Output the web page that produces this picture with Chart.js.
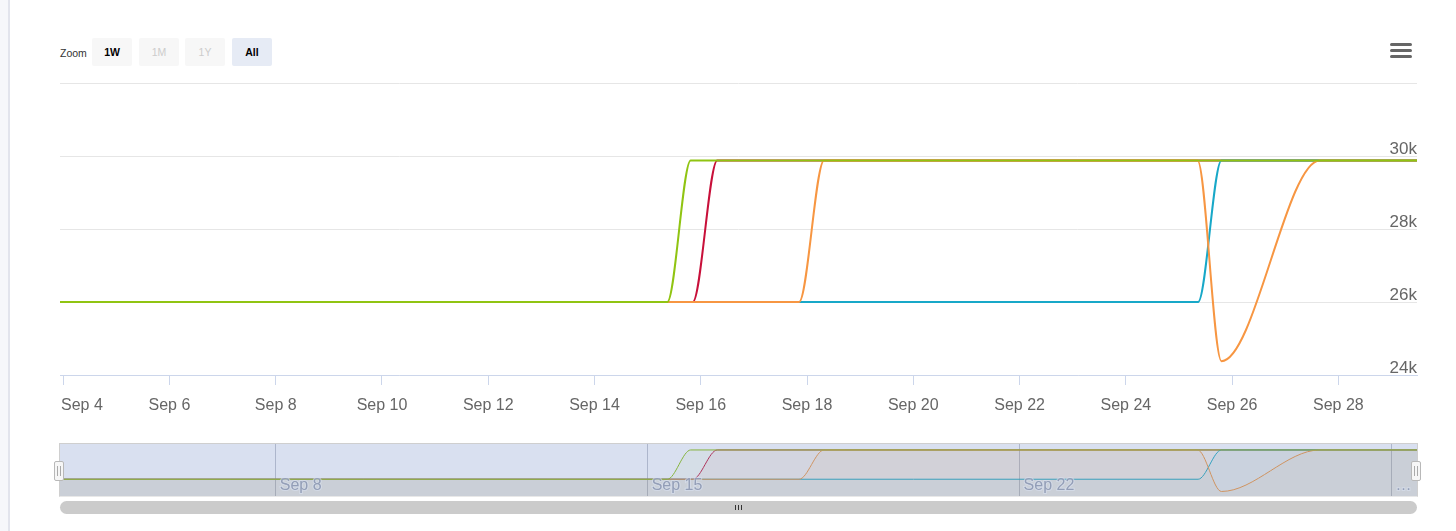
<!DOCTYPE html>
<html>
<head>
<meta charset="utf-8">
<script src="https://cdn.jsdelivr.net/npm/chart.js@4"></script>
<style>
  body { margin: 0; background: #fff; font-family: "Liberation Sans", Arial, sans-serif; }
  #page { position: relative; width: 1456px; height: 531px; overflow: hidden; }
  .edge { position: absolute; left: 0; top: 0; width: 8px; height: 531px; background: #f6f7fb; }
  .edgeLine { position: absolute; left: 8px; top: 0; width: 2px; height: 531px; background: #e2e4ed; }
  .zoomLabel { position: absolute; left: 60px; top: 47px; font-size: 10.5px; color: #333; }
  .btn { position: absolute; top: 38px; width: 40px; height: 28px; line-height: 29px; text-align: center;
         font-size: 10.5px; border-radius: 2px; background: #f7f7f7; color: #000; font-weight: bold; }
  .btn.off { color: #ccc; font-weight: normal; }
  .btn.on { background: #e6ebf5; }
  .burger { position: absolute; left: 1390px; width: 22px; height: 3px; border-radius: 2px; background: #666; }
  #main { position: absolute; left: 0; top: 0; }
  #nav { position: absolute; left: 0; top: 440px; }
  .navOutline { position: absolute; left: 59px; top: 443px; width: 1357px; height: 52px; border: 1px solid #cfcfcf; border-bottom-color: #e8e8e8; }
  .handle { position: absolute; top: 461px; width: 8px; height: 18px; background: #f6f6f6; border: 1px solid #b8b8b8; border-radius: 2px; }
  .handle::before, .handle::after { content: ""; position: absolute; top: 4px; width: 1px; height: 10px; background: #aaa; }
  .handle::before { left: 2px; } .handle::after { left: 5px; }
  .scroll { position: absolute; left: 60px; top: 501px; width: 1357px; height: 13px; border-radius: 7px; background: #cbcbcb; }
  .grip { position: absolute; top: 505px; width: 1px; height: 5px; background: #333; }
</style>
</head>
<body>
<div id="page">
  <div class="edge"></div><div class="edgeLine"></div>
  <div class="zoomLabel">Zoom</div>
  <div class="btn" style="left:92px">1W</div>
  <div class="btn off" style="left:139px">1M</div>
  <div class="btn off" style="left:185px">1Y</div>
  <div class="btn on" style="left:232px">All</div>
  <div class="burger" style="top:43px"></div>
  <div class="burger" style="top:49px"></div>
  <div class="burger" style="top:55px"></div>
  <canvas id="main" width="1456" height="430"></canvas>
  <canvas id="nav" width="1456" height="60"></canvas>
  <div class="navOutline"></div>
  <div class="handle" style="left:54px"></div>
  <div class="handle" style="left:1411px"></div>
  <div class="scroll"></div>
  <div class="grip" style="left:735px"></div>
  <div class="grip" style="left:738px"></div>
  <div class="grip" style="left:741px"></div>
</div>
<script>
// x values are days of September
const X_MIN = 3.94;
const X_MAX = 29.48;

const greenDays = [3.94, 15.37, 15.81, 29.48];
const greenValues = [26000, 26000, 29880, 29880];
const redDays = [3.94, 15.85, 16.31, 29.48];
const redValues = [26000, 26000, 29880, 29880];
const orangeDays = [3.94, 17.85, 18.32, 25.35, 25.80, 27.65, 29.48];
const orangeValues = [26000, 26000, 29880, 29880, 24380, 29880, 29880];
const cyanDays = [3.94, 25.36, 25.80, 29.48];
const cyanValues = [26000, 26000, 29880, 29880];

const xTickDays = [4, 6, 8, 10, 12, 14, 16, 18, 20, 22, 24, 26, 28];
const xTickLabels = ['Sep 4', 'Sep 6', 'Sep 8', 'Sep 10', 'Sep 12', 'Sep 14', 'Sep 16', 'Sep 18', 'Sep 20', 'Sep 22', 'Sep 24', 'Sep 26', 'Sep 28'];
const yTicks = [24000, 26000, 28000, 30000, 32000];
const yTickLabels = ['24k', '26k', '28k', '30k', ''];

const navTickDays = [8, 15, 22, 29];
const navTickLabels = ['Sep 8', 'Sep 15', 'Sep 22', '…'];

const FONT = '"Liberation Sans", Arial, sans-serif';

function points(days, values) {
    return days.map((d, i) => ({ x: d, y: values[i] }));
}

function makeDatasets(width, fillAlpha) {
    const series = [
        { days: greenDays, values: greenValues, color: '144, 196, 18' },
        { days: orangeDays, values: orangeValues, color: '247, 150, 66' },
        { days: cyanDays, values: cyanValues, color: '24, 168, 200' },
        { days: redDays, values: redValues, color: '200, 16, 58' }
    ];
    return series.map(s => ({
        data: points(s.days, s.values),
        borderColor: 'rgb(' + s.color + ')',
        backgroundColor: 'rgba(' + s.color + ', ' + fillAlpha + ')',
        fill: fillAlpha > 0 ? 'start' : false,
        borderWidth: width,
        pointRadius: 0,
        cubicInterpolationMode: 'monotone'
    }));
}

// x labels, kept inside the plot like the original
const xLabelsPlugin = {
    id: 'xLabels',
    afterDraw(chart) {
        const ctx = chart.ctx;
        const s = chart.scales.x;
        ctx.save();
        ctx.font = '16px ' + FONT;
        ctx.fillStyle = '#666';
        ctx.textBaseline = 'middle';
        ctx.textAlign = 'left';
        xTickDays.forEach((d, i) => {
            const px = s.getPixelForValue(d);
            const w = ctx.measureText(xTickLabels[i]).width;
            const left = Math.max(px - w / 2, chart.chartArea.left + 1);
            ctx.fillText(xTickLabels[i], left, 406);
        });
        ctx.restore();
    }
};

new Chart(document.getElementById('main').getContext('2d'), {
    type: 'line',
    data: { datasets: makeDatasets(2, 0) },
    options: {
        responsive: false,
        animation: false,
        layout: { padding: { left: 60, right: 39, top: 83, bottom: 0 } },
        scales: {
            x: {
                type: 'linear',
                min: X_MIN,
                max: X_MAX,
                afterBuildTicks: scale => { scale.ticks = xTickDays.map(v => ({ value: v })); },
                afterFit: scale => { scale.height = 55; scale.paddingLeft = 0; scale.paddingRight = 0; },
                grid: { drawOnChartArea: false, drawTicks: true, tickLength: 10, color: '#ccd6eb' },
                border: { color: '#ccd6eb' },
                ticks: { display: false }
            },
            y: {
                position: 'right',
                min: 24000,
                max: 32000,
                afterBuildTicks: scale => { scale.ticks = yTicks.map(v => ({ value: v })); },
                afterFit: scale => { scale.paddingTop = 0; scale.paddingBottom = 0; },
                grid: { color: '#e6e6e6', drawTicks: false },
                border: { display: false },
                ticks: {
                    mirror: true,
                    padding: 0,
                    labelOffset: -7,
                    color: '#666',
                    font: { size: 17, family: FONT },
                    callback: (v) => yTickLabels[yTicks.indexOf(v)]
                }
            }
        },
        plugins: { legend: { display: false }, tooltip: { enabled: false } }
    },
    plugins: [xLabelsPlugin]
});

// navigator: labels then the selection mask
const navPlugin = {
    id: 'navMask',
    afterDatasetsDraw(chart) {
        const ctx = chart.ctx;
        const a = chart.chartArea;
        const s = chart.scales.x;
        ctx.save();
        ctx.font = '16px ' + FONT;
        ctx.textBaseline = 'middle';
        ctx.textAlign = 'left';
        navTickDays.forEach((d, i) => {
            const px = s.getPixelForValue(d) + 4;
            ctx.lineWidth = 2;
            ctx.strokeStyle = 'rgba(255,255,255,0.6)';
            ctx.strokeText(navTickLabels[i], px, 46);
            ctx.fillStyle = '#a2a7b3';
            ctx.fillText(navTickLabels[i], px, 46);
        });
        ctx.fillStyle = 'rgba(102, 133, 194, 0.25)';
        ctx.fillRect(a.left, a.top, a.right - a.left, a.bottom - a.top);
        ctx.restore();
    }
};

new Chart(document.getElementById('nav').getContext('2d'), {
    type: 'line',
    data: { datasets: makeDatasets(1, 0.05) },
    options: {
        responsive: false,
        animation: false,
        layout: { padding: { left: 60, right: 39, top: 4, bottom: 4 } },
        scales: {
            x: {
                type: 'linear',
                min: X_MIN,
                max: X_MAX,
                afterBuildTicks: scale => { scale.ticks = navTickDays.map(v => ({ value: v })); },
                afterFit: scale => { scale.height = 0; scale.paddingLeft = 0; scale.paddingRight = 0; },
                grid: { drawTicks: false, color: '#c4c7cf' },
                border: { display: false },
                ticks: { display: false }
            },
            y: { display: false, min: 23780, max: 30670 }
        },
        plugins: { legend: { display: false }, tooltip: { enabled: false } }
    },
    plugins: [navPlugin]
});
</script>
</body>
</html>
